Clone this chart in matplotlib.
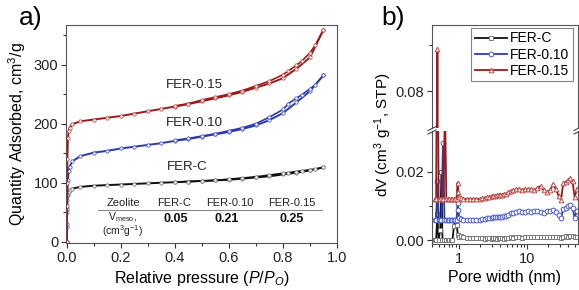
import matplotlib
matplotlib.use('Agg')
import matplotlib.pyplot as plt
from matplotlib.ticker import MultipleLocator, FixedLocator, NullFormatter, LogLocator
from matplotlib.lines import Line2D

plt.rcParams['font.family'] = ['Liberation Sans', 'DejaVu Sans']
plt.rcParams['mathtext.fontset'] = 'custom'
plt.rcParams['mathtext.rm'] = 'Liberation Sans'
plt.rcParams['mathtext.it'] = 'Liberation Sans:italic'
plt.rcParams['mathtext.bf'] = 'Liberation Sans:bold'

# ---------------- Panel a: isotherms ----------------
P_ads = [0.0, 0.0005, 0.001, 0.002, 0.004, 0.007, 0.01, 0.02, 0.05, 0.1, 0.15, 0.2, 0.25,
         0.3, 0.35, 0.4, 0.45, 0.5, 0.55, 0.6, 0.65, 0.7, 0.75, 0.8, 0.85, 0.9, 0.95]
ferc_ads = [0, 25, 50, 70, 80, 85, 87, 90, 93, 95, 96, 97, 98, 99, 100, 101, 102, 103, 104,
            105, 107, 109, 111, 114, 117, 121, 126]
fer10_ads = [0, 30, 55, 80, 105, 120, 127, 136, 145, 151, 154, 158, 161, 164, 167, 171, 174,
             178, 182, 186, 191, 197, 206, 218, 236, 255, 282]
fer15_ads = [0, 60, 100, 140, 175, 188, 193, 199, 204, 207, 210, 213, 217, 221, 225, 229, 233,
             238, 243, 248, 254, 261, 268, 277, 293, 312, 359]

P_des = [0.95, 0.92, 0.9, 0.87, 0.85, 0.82, 0.8, 0.75, 0.7, 0.65, 0.6, 0.55, 0.5, 0.45, 0.4]
ferc_des = [126, 123, 122, 120, 119, 117, 116, 113, 110, 108, 106, 104, 103, 102, 101]
fer10_des = [282, 266, 259, 249, 243, 234, 224, 211, 200, 193, 188, 183, 179, 175, 172]
fer15_des = [359, 333, 320, 306, 299, 289, 283, 272, 264, 256, 250, 245, 240, 234, 230]

series_names = ['FER-C', 'FER-0.10', 'FER-0.15']
vmeso_values = ['0.05', '0.21', '0.25']

# ---------------- Panel b: pore size distribution ----------------
pw_c = [0.44, 0.46, 0.48, 0.50, 0.53, 0.55, 0.57, 0.60, 0.64, 0.68, 0.72, 0.76, 0.80, 0.84,
        0.88, 0.92, 0.96, 1.0, 1.05, 1.15, 1.3, 1.45, 1.6, 1.8, 2.0, 2.2, 2.4, 2.6, 2.8, 3.0,
        3.2, 3.4, 3.6, 3.8, 4.0, 4.3, 4.6, 4.9, 5.3, 5.8, 6.3, 6.9, 7.6, 8.4, 9.3, 10.3, 11.5,
        12.8, 14.2, 15.8, 17.5, 19.5, 21.7, 24, 26.5, 29, 31.5, 34, 37, 40, 43, 46.5, 50, 54]
dv_c = [0.0, 0.0, 0.0075, 0.0, 0.003, 0.020, 0.0, 0.0, 0.0, 0.0, 0.0, 0.0, 0.0, 0.004,
        0.0058, 0.0045, 0.0015, 0.001, 0.0012, 0.0008, 0.0006, 0.0007, 0.0005, 0.0006, 0.0005,
        0.0005, 0.0004, 0.0005, 0.0005, 0.0004, 0.0005, 0.0005, 0.0004, 0.0005, 0.0005, 0.0005,
        0.0004, 0.0005, 0.0007, 0.0008, 0.0007, 0.0008, 0.0009, 0.0007, 0.0008, 0.0009, 0.0008,
        0.0009, 0.0010, 0.0008, 0.0009, 0.0010, 0.0009, 0.0008, 0.0010, 0.0009, 0.0007, 0.0010,
        0.0011, 0.0010, 0.0011, 0.0012, 0.0009, 0.0008]

pw_10 = [0.44, 0.46, 0.48, 0.50, 0.53, 0.55, 0.58, 0.61, 0.64, 0.68, 0.72, 0.76, 0.80, 0.84,
         0.88, 0.92, 0.95, 0.98, 1.0, 1.05, 1.15, 1.3, 1.45, 1.6, 1.8, 2.0, 2.2, 2.4, 2.6, 2.8,
         3.0, 3.2, 3.4, 3.6, 3.8, 4.0, 4.3, 4.6, 4.9, 5.3, 5.8, 6.3, 6.9, 7.6, 8.4, 9.3, 10.3,
         11.5, 12.8, 14.2, 15.8, 17.5, 19.5, 21.7, 24, 26.5, 29, 31.5, 34, 37, 40, 43, 46.5,
         50, 54]
dv_10 = [0.006, 0.006, 0.0172, 0.006, 0.006, 0.006, 0.0285, 0.006, 0.006, 0.006, 0.006, 0.006,
         0.006, 0.006, 0.006, 0.006, 0.0107, 0.0088, 0.0065, 0.0062, 0.006, 0.006, 0.006, 0.006,
         0.006, 0.006, 0.0061, 0.0062, 0.0063, 0.0064, 0.0065, 0.0066, 0.0066, 0.0067, 0.0067,
         0.0068, 0.0068, 0.0069, 0.0069, 0.0074, 0.0078, 0.0080, 0.0082, 0.0084, 0.0081,
         0.0083, 0.0085, 0.0082, 0.0084, 0.0086, 0.0083, 0.0080, 0.0084, 0.0086, 0.0088,
         0.0082, 0.0072, 0.0063, 0.0090, 0.0095, 0.0099, 0.0101, 0.0095, 0.0065, 0.0085]

pw_15 = [0.44, 0.46, 0.48, 0.50, 0.53, 0.56, 0.59, 0.62, 0.65, 0.68, 0.72, 0.76, 0.80, 0.84,
         0.88, 0.92, 0.95, 0.98, 1.0, 1.05, 1.15, 1.3, 1.45, 1.6, 1.8, 2.0, 2.2, 2.4, 2.6, 2.8,
         3.0, 3.2, 3.4, 3.6, 3.8, 4.0, 4.3, 4.6, 4.9, 5.3, 5.8, 6.3, 6.9, 7.6, 8.4, 9.3, 10.3,
         11.5, 12.8, 14.2, 15.8, 17.5, 19.5, 21.7, 24, 26.5, 29, 31.5, 34, 37, 40, 43, 46.5,
         50, 54]
dv_15 = [0.012, 0.012, 0.089, 0.012, 0.012, 0.012, 0.012, 0.040, 0.012, 0.012, 0.012, 0.012,
         0.012, 0.012, 0.012, 0.012, 0.0168, 0.014, 0.0125, 0.0122, 0.012, 0.012, 0.012, 0.012,
         0.012, 0.012, 0.0122, 0.0124, 0.0125, 0.0127, 0.0128, 0.0129, 0.0130, 0.0131, 0.0132,
         0.0133, 0.0133, 0.0134, 0.0135, 0.0140, 0.0143, 0.0145, 0.0148, 0.0150, 0.0146,
         0.0150, 0.0148, 0.0150, 0.0146, 0.0152, 0.0158, 0.0145, 0.0140, 0.0146, 0.0163,
         0.0148, 0.0130, 0.0118, 0.0166, 0.0170, 0.0175, 0.0180, 0.0172, 0.0125, 0.0150]

colors = ['#111111', '#2e3aa6', '#9a1a1a']
mcolors = ['#7a7a7a', '#4a5ac8', '#c04a4a']
markers_b = ['s', 'o', '^']

W, H = 579, 290
fig = plt.figure(figsize=(W / 100, H / 100), dpi=100)


def rect(l, t, r, b):
    return [l / W, 1 - b / H, (r - l) / W, (b - t) / H]


def ftext(x, y, s, **kw):
    fig.text(x / W, 1 - y / H, s, **kw)


TICK = 10.5

# ---------- Panel a ----------
axa = fig.add_axes(rect(66, 25, 337, 243))
for i, (ads, des) in enumerate([(ferc_ads, ferc_des), (fer10_ads, fer10_des),
                                 (fer15_ads, fer15_des)]):
    axa.plot(P_ads, ads, '-', color=colors[i], lw=1.4, marker='o', ms=2.4,
             mfc='white', mec=mcolors[i], mew=0.6)
    axa.plot(P_des, des, '-', color=colors[i], lw=1.2, marker='o', ms=2.4,
             mfc='white', mec=mcolors[i], mew=0.6)
axa.set_xlim(-0.003, 1.0)
axa.set_ylim(-2, 367)
axa.xaxis.set_minor_locator(MultipleLocator(0.1))
axa.yaxis.set_major_locator(MultipleLocator(100))
axa.yaxis.set_minor_locator(MultipleLocator(50))
axa.set_xticks([0.0, 0.2, 0.4, 0.6, 0.8, 1.0])
axa.set_xticklabels(['0.0', '0.2', '0.4', '0.6', '0.8', '1.0'])
axa.tick_params(which='both', direction='out', labelsize=TICK, top=False, right=False,
                colors='#333333', labelcolor='#222222', width=0.8)
axa.tick_params(which='major', length=3.5)
axa.tick_params(which='minor', length=2)
axa.tick_params(axis='x', pad=2)
axa.tick_params(axis='y', pad=2)
for sp in axa.spines.values():
    sp.set_color('#555555')
    sp.set_linewidth(0.8)
axa.set_xlabel(r'Relative pressure ($\mathit{P/P_O}$)', fontsize=11.5, labelpad=3)
axa.set_ylabel(r'Quantity Adsorbed, cm$^3$/g', fontsize=11.5, labelpad=4)

ftext(194, 85, 'FER-0.15', ha='center', va='center', fontsize=9.5, color='#222222')
ftext(194, 123, 'FER-0.10', ha='center', va='center', fontsize=9.5, color='#222222')
ftext(187, 167, 'FER-C', ha='center', va='center', fontsize=9.5, color='#222222')

# table
ftext(123, 203, 'Zeolite', ha='center', va='center', fontsize=8, color='#222222')
for name, xc in zip(series_names, [174, 230, 292]):
    ftext(xc, 203, name, ha='center', va='center', fontsize=8, color='#222222')
fig.add_artist(Line2D([98 / W, 322 / W], [1 - 210 / H, 1 - 210 / H], color='#888888', lw=0.8))
ftext(123, 217.5, r'V$_{\rm meso}$,', ha='center', va='center', fontsize=7.5, color='#222222')
ftext(123, 231.5, r'(cm$^3$g$^{-1}$)', ha='center', va='center', fontsize=7.5, color='#222222')
for val, xc in zip(vmeso_values, [176, 227, 292]):
    ftext(xc, 218.5, val, ha='center', va='center', fontsize=9, fontweight='bold',
          color='#111111')

ftext(31, 18, 'a)', ha='center', va='center', fontsize=19)
ftext(393, 18, 'b)', ha='center', va='center', fontsize=19)

# ---------- Panel b ----------
axl = fig.add_axes(rect(432, 131, 578, 244))
axu = fig.add_axes(rect(432, 25, 578, 128), sharex=axl)

handles = []
for ax in (axl, axu):
    for i, (x, y) in enumerate([(pw_c, dv_c), (pw_10, dv_10), (pw_15, dv_15)]):
        ln, = ax.plot(x, y, '-', color=colors[i], lw=1.3, marker=markers_b[i], ms=3.4,
                      mfc='white', mec=mcolors[i], mew=0.7, label=series_names[i])
        if ax is axu:
            handles.append(ln)

axl.set_xscale('log')
axl.set_xlim(0.40, 56)
axl.set_ylim(-0.00117, 0.0319)
axu.set_ylim(0.072, 0.0943)

axl.yaxis.set_major_locator(FixedLocator([0.0, 0.02]))
axl.yaxis.set_minor_locator(FixedLocator([0.01]))
axl.set_yticklabels(['0.00', '0.02'])
axu.yaxis.set_major_locator(FixedLocator([0.08]))
axu.yaxis.set_minor_locator(FixedLocator([0.09]))
axu.set_yticklabels(['0.08'])

axl.xaxis.set_major_locator(FixedLocator([1, 10]))
axl.xaxis.set_minor_locator(LogLocator(base=10, subs=[2, 3, 4, 5, 6, 7, 8, 9]))
axl.xaxis.set_minor_formatter(NullFormatter())
axl.set_xticklabels(['1', '10'])

for ax in (axl, axu):
    ax.tick_params(which='both', direction='out', labelsize=TICK, top=False, right=False,
                   colors='#333333', labelcolor='#222222', width=0.8)
    ax.tick_params(which='major', length=3.5)
    ax.tick_params(which='minor', length=2)
    ax.tick_params(axis='y', pad=2)
    for sp in ax.spines.values():
        sp.set_color('#555555')
        sp.set_linewidth(0.8)
axl.tick_params(axis='x', pad=2)
axl.spines['top'].set_visible(False)
axu.spines['bottom'].set_visible(False)
axu.tick_params(axis='x', which='both', bottom=False, labelbottom=False)

axl.set_xlabel('Pore width (nm)', fontsize=11.5, labelpad=3)
ftext(383, 135, r'dV (cm$^3$ g$^{-1}$, STP)', ha='center', va='center', rotation=90,
      fontsize=11)

# break marks on both side spines
for xb in (432, 578):
    for yb in (128.5, 132):
        fig.add_artist(Line2D([(xb - 4) / W, (xb + 4) / W],
                              [1 - (yb + 2) / H, 1 - (yb - 2) / H],
                              color='#444444', lw=0.8))

leg = fig.legend(handles=handles, loc='upper right', bbox_to_anchor=(573 / W, 1 - 28 / H),
                 bbox_transform=fig.transFigure, fontsize=10, frameon=True, fancybox=False,
                 edgecolor='#666666', handlelength=2.3, handletextpad=0.25, labelspacing=0.15,
                 borderpad=0.25, borderaxespad=0.0)
leg.get_frame().set_linewidth(0.8)

fig.savefig('out.png', dpi=100)
